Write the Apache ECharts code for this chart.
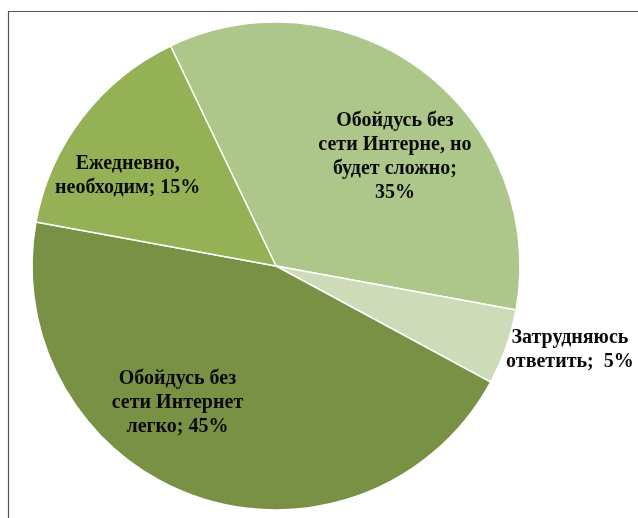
<!DOCTYPE html>
<html>
<head>
<meta charset="utf-8">
<script src="https://cdn.jsdelivr.net/npm/echarts@6/dist/echarts.min.js"></script>
<style>
  html, body { margin: 0; padding: 0; background: #fff; }
  #chart { width: 638px; height: 518px; }
</style>
</head>
<body>
<div id="chart"></div>
<script>
// categories in clockwise order, starting at the top-left slice edge
const categories = [
  'Обойдусь без\nсети Интерне, но\nбудет сложно',
  'Затрудняюсь\nответить',
  'Обойдусь без\nсети Интернет\nлегко',
  'Ежедневно,\nнеобходим'
]
const values = [35, 5, 45, 15]
const colors = ['#adc689', '#cddbb8', '#789144', '#94b156']
// label nudges from the default inside spot
const labelShift = [[43, -10], [176, 42], [-57, 19], [-49, -14]]

const myChart = echarts.init(document.getElementById('chart'))

const option = {
  animation: false,
  graphic: [
    {
      type: 'polyline',
      shape: { points: [[8.5, 600], [8.5, 11.5], [700, 11.5]] },
      style: { fill: null, stroke: '#555', lineWidth: 1.2 },
      silent: true
    }
  ],
  series: [
    {
      type: 'pie',
      center: [276, 266],
      radius: 244,
      startAngle: 115.6,
      clockwise: true,
      itemStyle: { borderColor: '#fff', borderWidth: 1.5 },
      label: {
        show: true,
        position: 'inside',
        color: '#0a0a0a',
        fontFamily: 'Liberation Serif',
        fontWeight: 'bold',
        fontSize: 20,
        lineHeight: 24,
        align: 'center',
        formatter: p => p.name + (p.dataIndex === 0 ? ';\n' : (p.dataIndex === 1 ? ';  ' : '; ')) + p.value + '%'
      },
      labelLine: { show: false },
      labelLayout: p => ({ dx: labelShift[p.dataIndex][0], dy: labelShift[p.dataIndex][1] }),
      emphasis: { disabled: true },
      data: categories.map((c, i) => ({
        name: c,
        value: values[i],
        itemStyle: { color: colors[i] }
      }))
    }
  ]
}
myChart.setOption(option)
</script>
</body>
</html>
